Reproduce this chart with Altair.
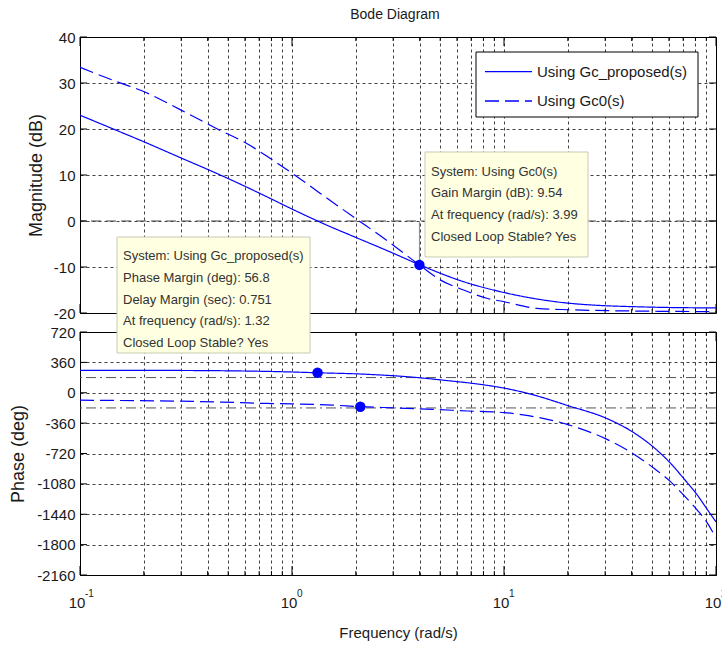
import altair as alt
import pandas as pd

FONT = "Liberation Sans"
BLUE = "#0000ff"
INK = "#1a1a1a"

# ---- data -------------------------------------------------------------
series_names = ["Using Gc_proposed(s)", "Using Gc0(s)"]

mag_freq_proposed = [0.1, 0.147, 0.196, 0.3, 0.454, 0.609, 0.79, 1.0, 1.32, 1.51,
                     1.96, 3.0, 3.99, 6.45, 9.9, 20.5, 47.0, 100.0]
mag_db_proposed = [23.0, 19.8, 17.4, 13.7, 10.1, 7.4, 4.9, 2.6, 0.0, -1.2,
                   -3.4, -7.0, -9.5, -13.2, -15.5, -17.9, -18.7, -18.9]

mag_freq_gc0 = [0.1, 0.147, 0.196, 0.3, 0.454, 0.609, 0.79, 1.0, 1.36, 1.96,
                2.72, 3.99, 5.0, 6.45, 8.3, 9.9, 14.3, 20.5, 47.0, 100.0]
mag_db_gc0 = [33.4, 30.4, 28.3, 24.1, 19.8, 16.9, 13.6, 10.4, 6.0, 0.8,
              -3.8, -9.54, -12.8, -15.0, -16.8, -17.5, -19.0, -19.3, -19.6, -19.7]

phase_freq_proposed = [0.1, 0.3, 0.5, 0.8, 1.0, 1.32, 2.1, 3.7, 5.35, 7.7, 10.0,
                       13.3, 20.0, 30.6, 40.3, 51.0, 61.0, 70.3, 81.6, 90.3, 100.0]
phase_deg_proposed = [266, 264, 260, 252, 246, 236.8, 222, 185, 145, 100, 55,
                      -15, -152, -306, -462, -650, -835, -1014, -1212, -1372, -1531]

phase_freq_gc0 = [0.1, 0.47, 0.76, 1.0, 1.56, 2.1, 3.1, 4.6, 6.7, 10.0, 12.3,
                  20.0, 30.6, 40.3, 51.0, 61.0, 70.3, 81.6, 90.3, 100.0]
phase_deg_gc0 = [-88, -111, -127, -132, -147, -165, -180, -196, -216, -235, -262,
                 -377, -553, -716, -895, -1054, -1212, -1391, -1531, -1722]

# stability-margin markers
gm_freq, gm_db = 3.99, -9.54          # gain margin point of Gc0
pm_freq, pm_phase = 1.32, 236.8       # phase margin point of Gc_proposed
gc0_phase_freq, gc0_phase_deg = 2.1, -165

mag_ref = [0]
phase_ref = [180, -180]

grid_freqs = [0.1, 0.2, 0.3, 0.4, 0.5, 0.6, 0.7, 0.8, 0.9,
              1, 2, 3, 4, 5, 6, 7, 8, 9,
              10, 20, 30, 40, 50, 60, 70, 80, 90, 100]
mag_ticks = [-20, -10, 0, 10, 20, 30, 40]
phase_ticks = [-2160, -1800, -1440, -1080, -720, -360, 0, 360, 720]
decades = [0.1, 1, 10, 100]
decade_exponents = ["-1", "0", "1", "2"]

title_text = "Bode Diagram"
tip_proposed = ["System: Using Gc_proposed(s)", "Phase Margin (deg): 56.8",
                "Delay Margin (sec): 0.751", "At frequency (rad/s): 1.32",
                "Closed Loop Stable? Yes"]
tip_gc0 = ["System: Using Gc0(s)", "Gain Margin (dB): 9.54",
           "At frequency (rad/s): 3.99", "Closed Loop Stable? Yes"]

# ---- layout -----------------------------------------------------------
W = 636
H_MAG = 276
H_PHASE = 243
DASHES = [[1, 0], [14, 6]]

x_scale = alt.Scale(type="log", domain=[0.1, 100], nice=False)
dash_scale = alt.Scale(domain=series_names, range=DASHES)
plain_labels = "datum.value + ''"


def long_frame(f1, v1, f2, v2):
    return pd.DataFrame({
        "freq": f1 + f2,
        "value": v1 + v2,
        "system": [series_names[0]] * len(f1) + [series_names[1]] * len(f2),
    })


def one_row():
    return alt.Chart(pd.DataFrame({"k": [0]}))


def inner_ticks(y_values, height):
    """Short tick marks drawn inside the frame on all four sides."""
    minor = pd.DataFrame({"freq": [f for f in grid_freqs if f not in decades]})
    major = pd.DataFrame({"freq": decades})
    ydf = pd.DataFrame({"value": y_values})
    layers = []
    for df, length in [(minor, 4), (major, 9)]:
        layers.append(alt.Chart(df).mark_rule(color="black", strokeWidth=1).encode(
            x="freq:Q", y=alt.value(height), y2=alt.value(height - length)))
        layers.append(alt.Chart(df).mark_rule(color="black", strokeWidth=1).encode(
            x="freq:Q", y=alt.value(0), y2=alt.value(length)))
    layers.append(alt.Chart(ydf).mark_rule(color="black", strokeWidth=1).encode(
        y="value:Q", x=alt.value(0), x2=alt.value(7)))
    layers.append(alt.Chart(ydf).mark_rule(color="black", strokeWidth=1).encode(
        y="value:Q", x=alt.value(W - 7), x2=alt.value(W)))
    return layers


mag_df = long_frame(mag_freq_proposed, mag_db_proposed, mag_freq_gc0, mag_db_gc0)
phase_df = long_frame(phase_freq_proposed, phase_deg_proposed, phase_freq_gc0, phase_deg_gc0)

# ---- magnitude panel ---------------------------------------------------
mag_y = alt.Y("value:Q", scale=alt.Scale(domain=[-20, 40], nice=False),
              axis=alt.Axis(values=mag_ticks, tickCount=50, title="Magnitude (dB)",
                            labelExpr=plain_labels, labelOverlap=False,
                            titlePadding=8, titleFontSize=18))
mag_x = alt.X("freq:Q", scale=x_scale,
              axis=alt.Axis(values=grid_freqs, tickCount=100, labels=False, title=None))

mag_lines = alt.Chart(mag_df).mark_line(
    color=BLUE, strokeWidth=1.2, interpolate="monotone", clip=True
).encode(
    x=mag_x, y=mag_y,
    strokeDash=alt.StrokeDash("system:N", scale=dash_scale, legend=None),
)

mag_refline = alt.Chart(pd.DataFrame({"value": mag_ref})).mark_rule(
    color="#444", strokeDash=[10, 5], strokeWidth=1
).encode(y="value:Q")

gm_df = pd.DataFrame({"freq": [gm_freq], "value": [0], "value2": [gm_db]})
gm_line = alt.Chart(gm_df).mark_rule(color="#888", strokeWidth=1).encode(
    x="freq:Q", y="value:Q", y2="value2:Q")
gm_dot = alt.Chart(gm_df).mark_circle(size=110, color=BLUE, opacity=1).encode(
    x="freq:Q", y="value2:Q")

# legend box drawn inside the magnitude panel
legend_layers = [
    one_row().mark_rect(fill="white", stroke="black", strokeWidth=1).encode(
        x=alt.value(396), x2=alt.value(618), y=alt.value(15), y2=alt.value(80))
]
for name, dash, row_y in zip(series_names, DASHES, [34.7, 64]):
    legend_layers.append(
        one_row().mark_rule(color=BLUE, strokeWidth=1.3, strokeDash=dash).encode(
            x=alt.value(405), x2=alt.value(452), y=alt.value(row_y)))
    legend_layers.append(
        one_row().mark_text(text=name, align="left", baseline="middle", fontSize=15,
                            font=FONT, color=INK).encode(x=alt.value(457), y=alt.value(row_y)))

title_mark = one_row().mark_text(
    text=title_text, fontSize=14, font=FONT, color=INK, align="center", baseline="middle"
).encode(x=alt.value(315), y=alt.value(-22))

tip2_box = one_row().mark_rect(fill="#ffffe1", stroke="#c9c9b8", strokeWidth=1).encode(
    x=alt.value(345), x2=alt.value(508), y=alt.value(115), y2=alt.value(220))
tip2_text = one_row().mark_text(
    text=tip_gc0, align="left", baseline="middle", lineHeight=21.8,
    fontSize=13, font=FONT, color="#333"
).encode(x=alt.value(351), y=alt.value(134.7))

top = alt.layer(
    mag_refline, *inner_ticks(mag_ticks, H_MAG), gm_line, mag_lines, gm_dot,
    *legend_layers, title_mark, tip2_box, tip2_text
).properties(width=W, height=H_MAG)

# ---- phase panel -------------------------------------------------------
phase_y = alt.Y("value:Q", scale=alt.Scale(domain=[-2160, 720], nice=False),
                axis=alt.Axis(values=phase_ticks, tickCount=50, title="Phase (deg)",
                              labelExpr=plain_labels, labelOverlap=False,
                              titlePadding=9, titleFontSize=18))
phase_x = alt.X("freq:Q", scale=x_scale,
                axis=alt.Axis(values=grid_freqs, tickCount=100, labels=False,
                              title="Frequency  (rad/s)", titleFontSize=15, titlePadding=50))

phase_lines = alt.Chart(phase_df).mark_line(
    color=BLUE, strokeWidth=1.2, interpolate="monotone", clip=True
).encode(
    x=phase_x, y=phase_y,
    strokeDash=alt.StrokeDash("system:N", scale=dash_scale, legend=None),
)

phase_reflines = alt.Chart(pd.DataFrame({"value": phase_ref})).mark_rule(
    color="#555", strokeDash=[10, 4, 2, 4], strokeWidth=1
).encode(y="value:Q")

phase_dots = alt.Chart(pd.DataFrame({
    "freq": [pm_freq, gc0_phase_freq], "value": [pm_phase, gc0_phase_deg]
})).mark_circle(size=110, color=BLUE, opacity=1).encode(x="freq:Q", y="value:Q")

dec_df = pd.DataFrame({"freq": decades, "base": ["10"] * len(decades), "exp": decade_exponents})
dec_base = alt.Chart(dec_df).mark_text(
    fontSize=15, font=FONT, color=INK, align="center", baseline="alphabetic", dx=-3
).encode(x="freq:Q", y=alt.value(H_PHASE + 33), text="base:N")
dec_exp = alt.Chart(dec_df).mark_text(
    fontSize=10, font=FONT, color=INK, align="left", baseline="alphabetic", dx=5
).encode(x="freq:Q", y=alt.value(H_PHASE + 22), text="exp:N")

tip1_box = one_row().mark_rect(fill="#ffffe1", stroke="#c9c9b8", strokeWidth=1).encode(
    x=alt.value(37), x2=alt.value(230), y=alt.value(-95), y2=alt.value(21))
tip1_text = one_row().mark_text(
    text=tip_proposed, align="left", baseline="middle", lineHeight=21.8,
    fontSize=13, font=FONT, color="#333"
).encode(x=alt.value(43), y=alt.value(-76))

bottom = alt.layer(
    phase_reflines, *inner_ticks(phase_ticks, H_PHASE), phase_lines, phase_dots,
    dec_base, dec_exp, tip1_box, tip1_text
).properties(width=W, height=H_PHASE)

chart = alt.vconcat(top, bottom, spacing=19, bounds="flush").properties(
    padding={"left": 9, "top": 7, "right": -6, "bottom": 0},
    background="white",
).configure_view(
    stroke="black", strokeWidth=1
).configure_axis(
    labelFont=FONT, titleFont=FONT, labelFontSize=15, labelColor=INK,
    titleColor=INK, titleFontWeight="normal", labelPadding=5,
    ticks=False, domain=False, grid=True,
    gridColor="#000", gridDash=[3, 3], gridOpacity=0.75, gridWidth=1,
)

chart.save("out.html", embed_options={"renderer": "svg", "actions": False})
